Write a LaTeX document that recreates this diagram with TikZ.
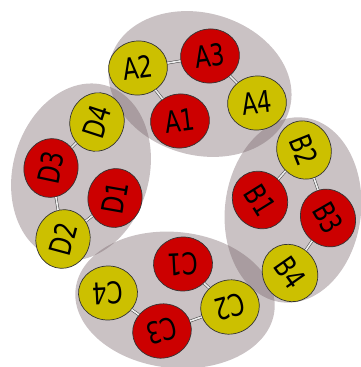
\documentclass[tikz,border=0pt]{standalone}
\usepackage{fontspec}
\usepackage{graphicx}
\setsansfont{DejaVu Sans}
\usetikzlibrary{shapes.geometric}

\definecolor{ballred}{RGB}{204,0,0}
\definecolor{ballyellow}{RGB}{204,192,0}
\definecolor{groupgray}{RGB}{115,95,100}

\newcommand{\lbl}[1]{\scalebox{0.76}[1]{#1}}

\tikzset{
  ball/.style={ellipse, draw=black!80, line width=0.7pt, minimum width=59pt,
    minimum height=54pt, inner sep=0pt, font=\sffamily\fontsize{30}{30}\selectfont},
  redball/.style={ball, fill=ballred},
  yellowball/.style={ball, fill=ballyellow},
  group/.style={fill=groupgray, fill opacity=0.38},
  bond/.style={draw=black!75, line width=0.5pt, double=white!85!gray, double distance=1.7pt}
}

\begin{document}
\begin{tikzpicture}[x=1pt,y=-1pt]
\useasboundingbox (0,0) rectangle (361,367);

% the four groups
\fill[group, rotate around={-16:(200,84)}] (200,84) ellipse [x radius=93, y radius=71];
\fill[group, rotate around={83:(293,210)}] (293,210) ellipse [x radius=93, y radius=68];
\fill[group, rotate around={-6:(175,300)}] (175,300) ellipse [x radius=100, y radius=68];
\fill[group, rotate around={74:(81,172)}] (81,172) ellipse [x radius=90, y radius=68];

% group A
\node[yellowball, rotate=7] (a2) at (138,68) {\lbl{A2}};
\node[redball, rotate=7] (a3) at (210,56) {\lbl{A3}};
\node[redball, rotate=7] (a1) at (180,121) {\lbl{A1}};
\node[yellowball, rotate=7] (a4) at (257,103) {\lbl{A4}};

% group B
\node[yellowball, rotate=-68] (b2) at (304,150) {\lbl{B2}};
\node[redball, rotate=-58] (b1) at (260,200) {\lbl{B1}};
\node[redball, rotate=-60] (b3) at (328,218) {\lbl{B3}};
\node[yellowball, rotate=-55] (b4) at (290,273) {\lbl{B4}};

% group C
\node[redball, rotate=183] (c1) at (183,264) {\lbl{C1}};
\node[yellowball, rotate=195] (c2) at (230,307) {\lbl{C2}};
\node[redball, rotate=195] (c3) at (162,331) {\lbl{C3}};
\node[yellowball, rotate=183] (c4) at (108,293) {\lbl{C4}};

% group D
\node[yellowball, rotate=72] (d4) at (97,122) {\lbl{D4}};
\node[redball, rotate=78] (d3) at (51,168) {\lbl{D3}};
\node[redball, rotate=80] (d1) at (115,198) {\lbl{D1}};
\node[yellowball, rotate=75] (d2) at (63,239) {\lbl{D2}};

% bonds
\draw[bond] (a2) -- (a3);
\draw[bond] (a2) -- (a1);
\draw[bond] (a3) -- (a4);
\draw[bond] (b2) -- (b1);
\draw[bond] (b2) -- (b3);
\draw[bond] (b3) -- (b4);
\draw[bond] (c1) -- (c2);
\draw[bond] (c2) -- (c3);
\draw[bond] (c3) -- (c4);
\draw[bond] (d4) -- (d3);
\draw[bond] (d3) -- (d2);
\draw[bond] (d2) -- (d1);
\end{tikzpicture}
\end{document}
